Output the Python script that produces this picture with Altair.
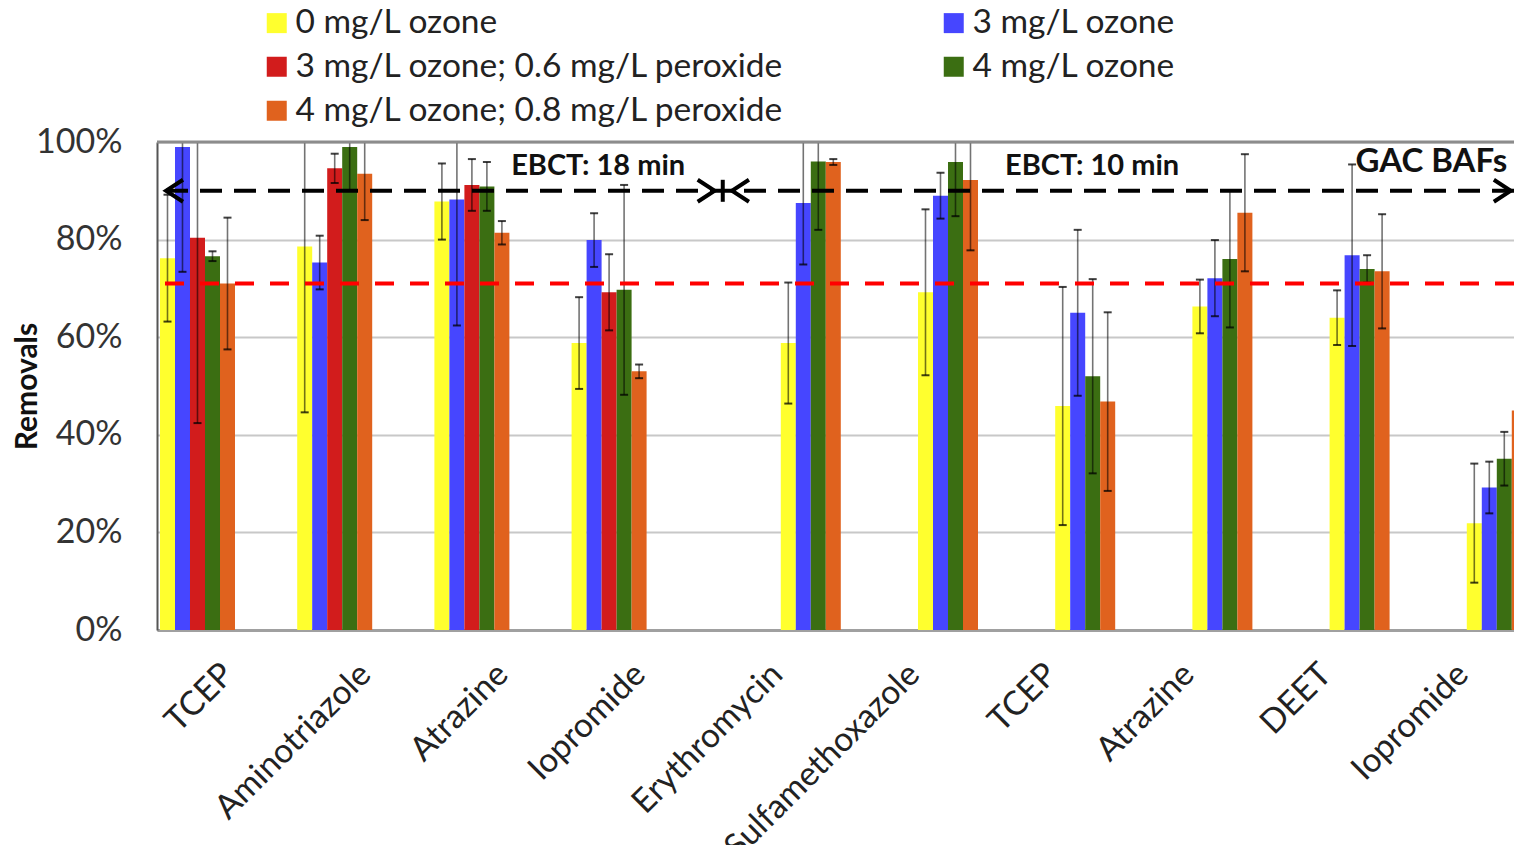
import json
import pandas as pd
import altair as alt

# ---------------- data ----------------
groups = ["TCEP", "Aminotriazole", "Atrazine", "Iopromide", "Erythromycin",
          "Sulfamethoxazole", "TCEP", "Atrazine", "DEET", "Iopromide"]
series = ["0 mg/L ozone", "3 mg/L ozone", "3 mg/L ozone; 0.6 mg/L peroxide",
          "4 mg/L ozone", "4 mg/L ozone; 0.8 mg/L peroxide"]
colors = ["#FFFF2E", "#4646FF", "#D21C1C", "#3B6E12", "#E0621E"]

ozone0 = [76.2, 78.6, 87.8, 58.8, 58.8, 69.2, 45.9, 66.3, 64.0, 21.9]
ozone3 = [99.0, 75.3, 88.2, 79.9, 87.5, 89.0, 65.0, 72.1, 76.8, 29.2]
ozone3p = [80.4, 94.6, 91.2, 69.2, None, None, None, None, None, None]
ozone4 = [76.6, 99.0, 90.9, 69.7, 96.0, 95.9, 52.0, 76.0, 74.0, 35.1]
ozone4p = [71.0, 93.5, 81.4, 53.0, 95.9, 92.2, 46.8, 85.5, 73.5, 45.0]

err0 = [13.0, 34.0, 7.8, 9.4, 12.4, 17.0, 24.4, 5.5, 5.6, 12.2]
err3 = [25.6, 5.5, 25.8, 5.5, 12.6, 4.7, 17.0, 7.8, 18.6, 5.3]
err3p = [38.0, 3.0, 5.3, 7.8, None, None, None, None, None, None]
err4 = [1.0, 9.0, 5.0, 21.5, 14.0, 11.1, 19.9, 14.0, 2.8, 5.5]
err4p = [13.5, 9.5, 2.4, 1.4, 0.6, 14.4, 18.3, 12.0, 11.7, 4.9]

values = [ozone0, ozone3, ozone3p, ozone4, ozone4p]
errors = [err0, err3, err3p, err4, err4p]

target_level = 71      # red dashed line
span_level = 90        # black dashed arrow line
panel_labels = ["EBCT: 18 min", "EBCT: 10 min"]
panel_label_x = [2.72, 6.32]
panel_label_y = [95.1, 95.1]
system_label = ["GAC BAFs"]

# ---------------- layout (slot units = one category step) ----------------
PX = 137.2                 # pixels per category step
W, H = 1357, 488
XMIN = -0.4956
XMAX = XMIN + W / PX
BW = 15 / PX               # bar width
CAP = 4 / PX               # half width of error caps
LEFT_PANEL = 4             # first four groups belong to the 18 min panel
OFF_LEFT = -65 / PX
OFF_RIGHT = 7 / PX

rows = []
for gi in range(len(groups)):
    present = [si for si in range(len(series)) if values[si][gi] is not None]
    start = gi + (OFF_LEFT if gi < LEFT_PANEL else OFF_RIGHT)
    for k, si in enumerate(present):
        x0 = start + k * BW
        xc = x0 + BW / 2
        v = values[si][gi]
        e = errors[si][gi]
        rows.append(dict(series=series[si], x0=x0, x1=x0 + BW, xc=xc,
                         c0=xc - CAP, c1=xc + CAP, base=0,
                         value=v, lo=v - e, hi=v + e))
df = pd.DataFrame(rows)

FONT = "Lato"
xs = alt.Scale(domain=[XMIN, XMAX], nice=False, zero=False)
ys = alt.Scale(domain=[0, 100], nice=False, zero=False)

xaxis = alt.Axis(values=list(range(len(groups))),
                 labelExpr=json.dumps(groups) + "[datum.value]",
                 labelAngle=315, labelAlign="right", labelBaseline="middle",
                 labelFont=FONT, labelFontSize=33.5, labelColor="#222222",
                 labelPadding=39, labelOffset=3, labelOverlap=False,
                 labelFlush=False, labelBound=False, labelLimit=2000,
                 ticks=False, tickSize=0,
                 grid=False, domainColor="#A0A0A0", domainWidth=3, title=None)
yaxis = alt.Axis(values=[0, 20, 40, 60, 80, 100],
                 labelExpr="datum.value + '%'",
                 grid=True, gridColor="#C8C8C8", gridWidth=2,
                 ticks=False, tickSize=0, domainColor="#555555", domainWidth=2,
                 labelFont=FONT, labelFontSize=34, labelColor="#333333",
                 labelPadding=35,
                 title="Removals", titleFont=FONT, titleFontSize=30,
                 titleFontWeight="bold", titleColor="#111111",
                 titleAngle=270, titleX=-129.5, titleY=244,
                 titleAlign="center", titleBaseline="middle")


def X(f):
    return alt.X(f, type="quantitative", scale=xs, axis=xaxis)


def Y(f):
    return alt.Y(f, type="quantitative", scale=ys, axis=yaxis)


base = alt.Chart(df)

bars = base.mark_bar(clip=True).encode(
    x=X("x0"), x2="x1", y=Y("value"), y2="base",
    color=alt.Color("series:N",
                    scale=alt.Scale(domain=series, range=colors),
                    legend=alt.Legend(title=None, orient="none",
                                      direction="horizontal",
                                      legendX=103, legendY=-136,
                                      columns=2, columnPadding=152,
                                      rowPadding=9, padding=0,
                                      symbolType="square", symbolSize=400,
                                      symbolStrokeWidth=0, symbolOpacity=1,
                                      labelFont=FONT, labelFontSize=33.5,
                                      labelColor="#222222", labelOffset=2,
                                      labelLimit=2000)),
)

err_line = base.mark_rule(clip=True, color="black", opacity=0.55,
                          strokeWidth=1.6).encode(
    x=X("xc"), y=Y("lo"), y2="hi")
cap_hi = base.mark_rule(clip=True, color="black", opacity=0.75,
                        strokeWidth=2).encode(x=X("c0"), x2="c1", y=Y("hi"))
cap_lo = base.mark_rule(clip=True, color="black", opacity=0.75,
                        strokeWidth=2).encode(x=X("c0"), x2="c1", y=Y("lo"))

top_border = alt.Chart(pd.DataFrame({"y": [100]})).mark_rule(
    color="#8C8C8C", strokeWidth=3).encode(y=Y("y"))

red_line = alt.Chart(pd.DataFrame({"y": [target_level]})).mark_rule(
    color="#FF0000", strokeWidth=4, strokeDash=[19, 16]).encode(y=Y("y"))

span_df = pd.DataFrame({"x": [-0.43], "x2": [XMAX], "y": [span_level]})
span_line = alt.Chart(span_df).mark_rule(
    color="black", strokeWidth=4, strokeDash=[22, 12]).encode(
    x=X("x"), x2="x2", y=Y("y"))

LEFT_HEAD = "M0.77,-1L-0.77,0L0.77,1"
RIGHT_HEAD = "M-0.77,-1L0.77,0L-0.77,1"
BAR = "M0,-1L0,1"


def heads(xpos, shape):
    d = pd.DataFrame({"x": xpos, "y": [span_level] * len(xpos)})
    return alt.Chart(d).mark_point(shape=shape, filled=False, color="black",
                                   strokeWidth=4, size=484, opacity=1).encode(
        x=X("x"), y=Y("y"))


left_heads = heads([-0.368, 3.757], LEFT_HEAD)
right_heads = heads([3.507, 9.31], RIGHT_HEAD)
divider = heads([3.628], BAR)

panel_df = pd.DataFrame({"x": panel_label_x, "y": panel_label_y,
                         "t": panel_labels})
panel_text = alt.Chart(panel_df).mark_text(
    font=FONT, fontWeight="bold", fontSize=29, align="center",
    baseline="middle", color="#111111").encode(x=X("x"), y=Y("y"), text="t:N")

sys_df = pd.DataFrame({"x": [8.24], "y": [95.8], "t": system_label})
sys_text = alt.Chart(sys_df).mark_text(
    font=FONT, fontWeight="bold", fontSize=33, align="left",
    baseline="middle", color="#111111").encode(x=X("x"), y=Y("y"), text="t:N")

chart = alt.layer(
    bars, err_line, cap_hi, cap_lo, top_border, red_line, span_line,
    left_heads, right_heads, divider, panel_text, sys_text
).properties(
    width=W, height=H,
    autosize=alt.AutoSizeParams(type="none"),
    padding={"left": 149, "top": 134, "right": 0, "bottom": 215},
).configure_view(stroke=None).configure(background="white")

chart.save("out.html", embed_options={"renderer": "svg", "actions": False})
